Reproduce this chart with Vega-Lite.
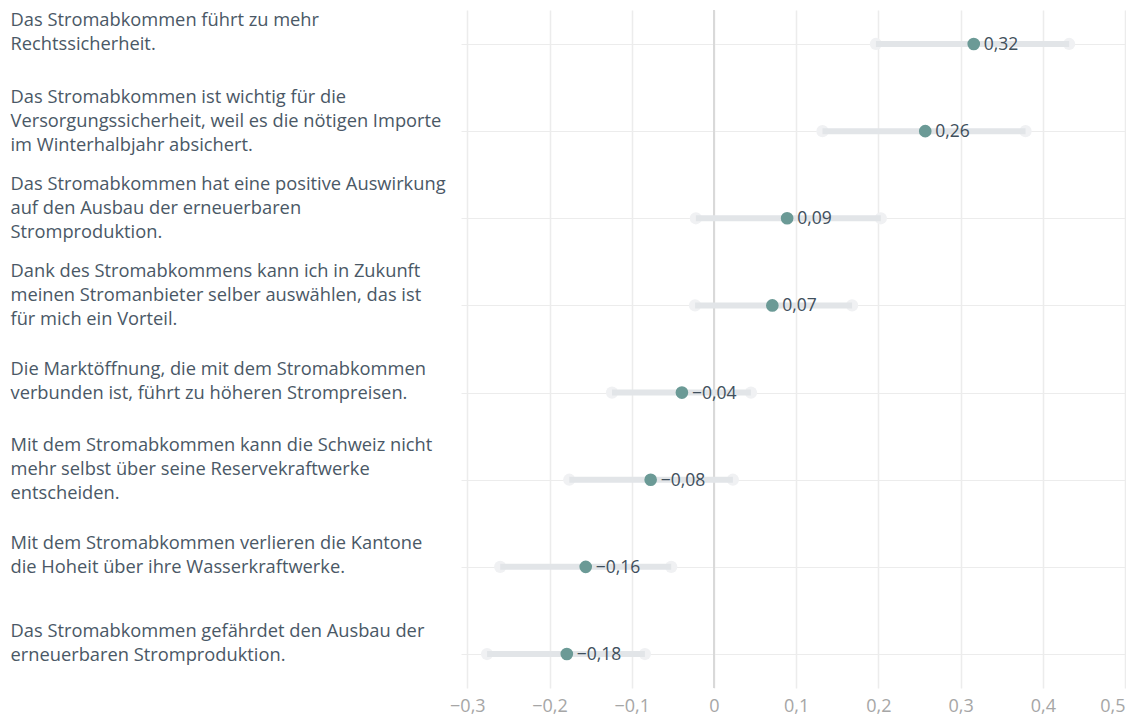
{
  "$schema": "https://vega.github.io/schema/vega-lite/v6.json",
  "width": 665,
  "height": 678,
  "autosize": {"type": "none"},
  "padding": {"left": 461, "top": 10, "right": 0, "bottom": 29},
  "background": "white",
  "config": {
    "view": {"stroke": null},
    "font": "Open Sans",
    "locale": {"number": {"decimal": ",", "thousands": ".", "grouping": [3], "currency": ["", " €"], "minus": "−"}}
  },
  "data": {
    "values": [
      {"item": "Das Stromabkommen führt zu mehr|Rechtssicherheit.", "mean": 0.316, "lo": 0.197, "hi": 0.432},
      {"item": "Das Stromabkommen ist wichtig für die|Versorgungssicherheit, weil es die nötigen Importe|im Winterhalbjahr absichert.", "mean": 0.257, "lo": 0.132, "hi": 0.379},
      {"item": "Das Stromabkommen hat eine positive Auswirkung|auf den Ausbau der erneuerbaren|Stromproduktion.", "mean": 0.089, "lo": -0.022, "hi": 0.203},
      {"item": "Dank des Stromabkommens kann ich in Zukunft|meinen Stromanbieter selber auswählen, das ist|für mich ein Vorteil.", "mean": 0.071, "lo": -0.023, "hi": 0.168},
      {"item": "Die Marktöffnung, die mit dem Stromabkommen|verbunden ist, führt zu höheren Strompreisen.", "mean": -0.039, "lo": -0.124, "hi": 0.045},
      {"item": "Mit dem Stromabkommen kann die Schweiz nicht|mehr selbst über seine Reservekraftwerke|entscheiden.", "mean": -0.077, "lo": -0.176, "hi": 0.023},
      {"item": "Mit dem Stromabkommen verlieren die Kantone|die Hoheit über ihre Wasserkraftwerke.", "mean": -0.156, "lo": -0.26, "hi": -0.052},
      {"item": "Das Stromabkommen gefährdet den Ausbau der|erneuerbaren Stromproduktion.", "mean": -0.179, "lo": -0.276, "hi": -0.084}
    ]
  },
  "encoding": {
    "y": {
      "field": "item",
      "type": "nominal",
      "sort": null,
      "scale": {"type": "point", "padding": 0.39},
      "axis": {
        "title": null,
        "domain": false,
        "ticks": false,
        "tickSize": 0,
        "grid": true,
        "gridColor": "#ececec",
        "gridWidth": 1,
        "labelExpr": "split(datum.label, '|')",
        "labelAlign": "left",
        "labelBaseline": "middle",
        "labelPadding": 451,
        "labelOffset": {"expr": "length(split(datum.label, '|')) > 2 ? -34 : -23"},
        "labelLineHeight": 24,
        "labelLimit": 460,
        "labelFontSize": 18.3,
        "labelFont": "Open Sans",
        "labelColor": "#4a5866"
      }
    }
  },
  "layer": [
    {
      "mark": {"type": "rule", "strokeWidth": 1.5, "color": "#d9d9d9"},
      "encoding": {"x": {"datum": 0, "type": "quantitative"}, "y": null}
    },
    {
      "mark": {"type": "circle", "size": 150, "color": "#f0f1f3", "opacity": 1},
      "encoding": {"x": {"field": "lo", "type": "quantitative"}}
    },
    {
      "mark": {"type": "circle", "size": 150, "color": "#f0f1f3", "opacity": 1},
      "encoding": {"x": {"field": "hi", "type": "quantitative"}}
    },
    {
      "mark": {"type": "rule", "strokeWidth": 6, "color": "#e2e5e8"},
      "encoding": {
        "x": {
          "field": "lo",
          "type": "quantitative",
          "scale": {"domain": [-0.3077, 0.5012], "nice": false, "zero": false},
          "axis": {
            "title": null,
            "values": [-0.3, -0.2, -0.1, 0, 0.1, 0.2, 0.3, 0.4, 0.5],
            "format": ".1~f",
            "domain": false,
            "ticks": false,
            "grid": true,
            "gridColor": "#ececec",
            "gridWidth": 1.5,
            "labelFontSize": 18,
            "labelFont": "Open Sans",
            "labelColor": "#a6a6a6",
            "labelPadding": 9,
            "labelAlign": {"expr": "datum.value >= 0.5 ? 'right' : 'center'"}
          }
        },
        "x2": {"field": "hi"}
      }
    },
    {
      "mark": {"type": "circle", "size": 160, "color": "#6b9a96", "opacity": 1},
      "encoding": {"x": {"field": "mean", "type": "quantitative"}}
    },
    {
      "mark": {"type": "text", "align": "left", "baseline": "middle", "dx": 10, "dy": 1, "fontSize": 17.5, "font": "Open Sans", "color": "#3f4f5c"},
      "encoding": {
        "x": {"field": "mean", "type": "quantitative"},
        "text": {"field": "mean", "type": "quantitative", "format": ".2f"}
      }
    }
  ]
}
